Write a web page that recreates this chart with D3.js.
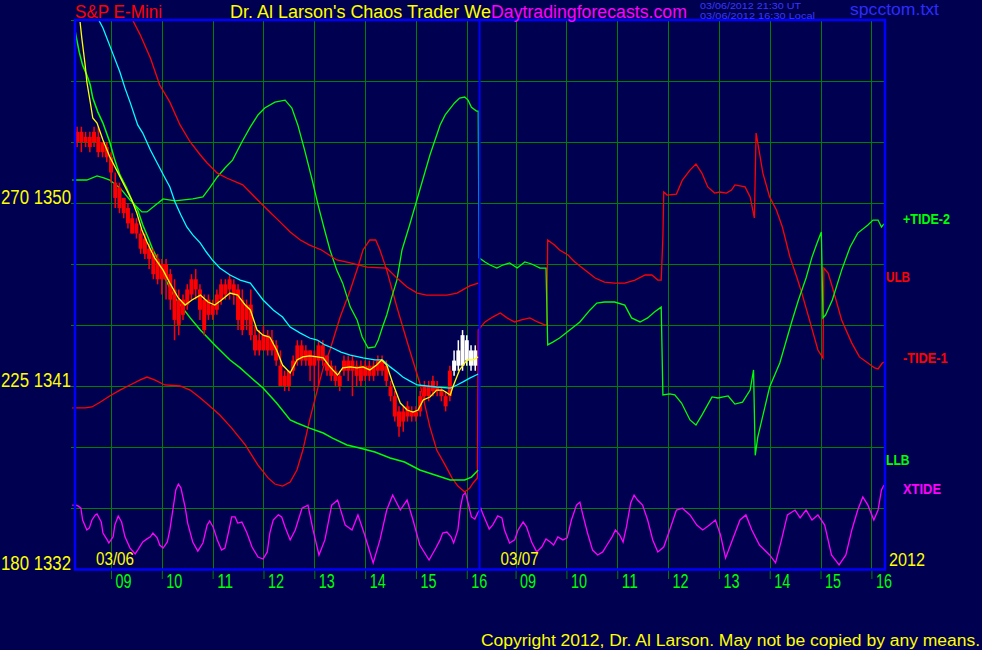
<!DOCTYPE html>
<html><head><meta charset="utf-8">
<script src="https://cdn.jsdelivr.net/npm/d3@7"></script>
<style>html,body{margin:0;padding:0;background:#000050;}svg{display:block}</style>
</head><body>
<svg id="c" width="982" height="650"></svg>
<script>
// ---------- DATA ----------
const days = ["03/06", "03/07"];
const hourLabels = ["09","10","11","12","13","14","15","16"];
const priceLabels = [1332, 1341, 1350];
const gridPrices = [1335, 1338, 1341, 1344, 1347, 1350, 1353, 1356];
const sessionOpen = 497.5;   // minutes after midnight (08:17:30)
const sessionLen = 477.6;    // minutes per plotted session
const barStart = 2.5, barStep = 5; // 5-minute bars, minutes from first session open
const liveFrom = 89;         // bars from this index are drawn white

const barHigh = [1353.75,1353.75,1353.5,1353.5,1353.75,1353.75,1353,1353,1352.5,1351.5,
1351,1350.25,1350,1349.5,1349.25,1348.75,1348.5,1348,1347.75,1347.5,
1347.25,1347.25,1346.75,1346.25,1345.75,1345.5,1346,1346.5,1346.75,1346,
1345.5,1345.5,1345.25,1345.75,1346.25,1346.25,1346.5,1346.25,1346,1345.75,
1345.25,1345.75,1344,1343.75,1344,1343.75,1343.75,1343.25,1342.75,1341.75,
1341.75,1342.5,1343.25,1343.25,1343,1342.75,1342.75,1343.25,1343.25,1342.5,
1342.25,1342,1341.75,1342.5,1342.5,1342.5,1342.25,1342.25,1342.25,1342.25,
1342.25,1342.5,1342.5,1342.25,1341.25,1340.75,1340,1340,1340.25,1340,
1340,1340.75,1341.25,1341.25,1341.5,1341.25,1341,1340.75,1342,1342.75,
1343.25,1343.75,1343.5,1343,1343];
const barLow = [1352.75,1352.5,1352.75,1352.5,1352.75,1352.25,1352.25,1352,1351,1349.75,
1349.5,1349.25,1348.75,1348.5,1348.25,1347.5,1347.25,1346.75,1346.25,1346,
1345.5,1345.25,1344.75,1343.25,1343.5,1344.25,1344.75,1345.25,1345.25,1344.25,
1343.5,1344.25,1344.25,1344.5,1345,1345.25,1345.25,1345,1343.75,1343.5,
1343.75,1343.25,1342.5,1342.5,1342.75,1342.5,1342.5,1342,1341,1340.75,
1340.75,1341.5,1342,1342,1342,1341.25,1340.75,1341,1342,1341.5,
1341.25,1341,1340.75,1341.5,1341.25,1340.5,1341,1341,1341.25,1341.25,
1341.25,1341.5,1341.5,1341,1340.25,1339.25,1338.5,1338.75,1339.25,1339.25,
1339.25,1339.5,1340.25,1340.25,1340.5,1340.5,1340.25,1339.75,1340.25,1341.5,
1341.75,1341.75,1342,1341.75,1341.75];
const barOpen = [1353.5,1353,1353.25,1353.25,1353,1353.25,1353,1352.75,1352.25,1351,
1350.75,1350.25,1349.75,1349.25,1349,1348.5,1348.25,1347.75,1347.5,1347.25,
1347,1346.25,1346.5,1345.75,1345.25,1344.5,1345,1345.5,1346.25,1345.75,
1345.25,1344.5,1345,1344.75,1345.25,1345.5,1345.75,1346,1345.75,1345.25,
1344.25,1345,1343.5,1343.25,1342.75,1343.5,1343.25,1343,1342,1341.5,
1341,1341.75,1342.25,1343,1342.25,1342.75,1342.5,1342.25,1343,1342.5,
1342,1341.75,1341.5,1341.75,1341.75,1342.25,1342,1342,1341.5,1342,
1341.5,1341.75,1341.75,1342,1341,1340.5,1339.75,1339.25,1340,1339.5,
1339.75,1339.75,1340.5,1340.5,1340.75,1341,1340.75,1340.5,1340.5,1341.75,
1342,1342,1343.25,1342.75,1342];
const barClose = [1353,1353.5,1353,1352.75,1353.5,1352.5,1352.5,1352.25,1351.5,1350.25,
1349.75,1349.5,1349,1348.5,1348.5,1347.75,1347.5,1347.25,1346.5,1346.25,
1346.25,1347,1345.25,1344.25,1344,1345.25,1345.75,1346.25,1345.75,1344.75,
1343.75,1345.25,1344.5,1345.5,1346,1346,1346.25,1345.5,1344.25,1343.75,
1345,1343.5,1342.75,1342.75,1343.5,1342.75,1342.75,1342.25,1341,1341,
1341.75,1342.25,1343,1342.25,1342.75,1342,1342,1343,1342.25,1341.75,
1341.5,1341.25,1341,1342.25,1342.25,1341.75,1341.5,1341.25,1342,1341.5,
1342,1342.25,1342.25,1341.25,1340.5,1339.5,1339,1339.75,1339.5,1339.75,
1339.5,1340.5,1341,1341,1341.25,1340.75,1340.5,1340,1341.75,1342.25,
1342.75,1343.5,1342.25,1342,1342.75];

// [minutes from first session open, price]
const yellowMA = [[6,1358.9],[8,1358.12],[12,1356.78],[14,1355.95],[18,1354.96],[21,1354.18],[26,1353.93],[33,1353.1],[41,1352.27],[51,1351.47],[61,1350.64],[67,1350.15],[73,1349.51],[79,1348.67],[85,1348.08],[94,1347.3],[104,1346.7],[112,1346.06],[122,1345.33],[130,1344.98],[138,1345.23],[148,1345.47],[157,1345.13],[165,1344.98],[173,1345.23],[183,1345.57],[192,1345.47],[201,1344.98],[207,1344.74],[215,1343.75],[222,1343.5],[230,1343.4],[238,1342.77],[245,1342.03],[254,1341.64],[262,1342.28],[269,1342.43],[277,1342.48],[286,1342.43],[293,1342.38],[301,1341.94],[310,1341.54],[316,1341.89],[325,1341.94],[333,1341.89],[340,1341.94],[348,1341.79],[356,1342.03],[362,1342.28],[368,1342.03],[375,1341.15],[384,1340.16],[392,1339.82],[399,1339.72],[405,1339.82],[411,1340.31],[419,1340.46],[427,1340.8],[434,1340.8],[443,1340.56],[446,1340.95],[454,1341.79],[463,1342.28],[470,1342.28],[476,1342.43]];
const cyanMA = [[28,1359],[33,1358.61],[44,1357.42],[53,1356.44],[59,1355.65],[65,1354.96],[74,1353.84],[80,1353.44],[89,1352.61],[97,1351.97],[105,1351.33],[112,1350.79],[118,1350.05],[125,1349.41],[132,1348.82],[139,1348.43],[148,1348.03],[155,1347.59],[162,1347.2],[171,1346.8],[183,1346.46],[195,1346.21],[207,1346.06],[215,1345.62],[222,1345.23],[234,1344.74],[245,1344.39],[254,1343.9],[266,1343.6],[277,1343.36],[286,1343.26],[295,1343.02],[304,1342.87],[314,1342.67],[325,1342.52],[340,1342.38],[354,1342.28],[363,1342.28],[372,1341.94],[380,1341.69],[387,1341.44],[395,1341.25],[404,1341.05],[415,1341],[427,1340.95],[443,1340.9],[451,1341.05],[458,1341.2],[466,1341.39],[476,1341.59]];
const llb = [[0,1358.51],[1,1358.27],[5,1357.42],[9,1356.78],[14,1356.29],[18,1355.8],[21,1355.16],[27,1354.47],[33,1353.93],[41,1353],[47,1352.11],[53,1351.38],[61,1350.74],[68,1350.05],[74,1349.66],[80,1348.92],[86,1348.33],[92,1347.69],[97,1347.3],[106,1346.31],[118,1345.33],[136,1344.35],[148,1343.75],[165,1343.02],[183,1342.28],[195,1341.89],[207,1341.44],[222,1340.9],[238,1340.16],[254,1339.33],[262,1339.18],[277,1338.93],[293,1338.69],[304,1338.44],[321,1338.1],[336,1337.95],[354,1337.75],[372,1337.46],[389,1337.26],[407,1336.87],[425,1336.62],[443,1336.38],[460,1336.38],[468,1336.52],[476,1336.87]];
const ulb = [[68,1359],[77,1358.27],[89,1357.13],[100,1355.8],[112,1354.96],[124,1353.84],[136,1353],[148,1352.36],[156,1351.97],[168,1351.47],[179,1351.23],[198,1350.89],[218,1350.05],[230,1349.56],[242,1349.07],[254,1348.57],[266,1348.18],[277,1347.93],[291,1347.69],[309,1347.2],[325,1347.05],[345,1346.85],[368,1346.8],[380,1346.31],[392,1345.87],[404,1345.57],[415,1345.47],[439,1345.47],[451,1345.57],[466,1345.92],[476,1346.06]];
const tide2 = [[0,1351.13],[14,1351.13],[26,1351.33],[34,1351.23],[41,1351.13],[53,1350.74],[65,1350.15],[73,1349.81],[79,1349.56],[85,1349.56],[94,1349.86],[104,1350.2],[118,1350.1],[139,1350.2],[151,1350.3],[159,1350.74],[168,1351.28],[177,1351.72],[186,1352.11],[197,1353],[207,1353.74],[216,1354.33],[224,1354.67],[236,1354.96],[248,1355.06],[256,1354.67],[263,1353.84],[271,1352.61],[280,1351.13],[287,1349.9],[294,1348.77],[301,1347.69],[309,1346.7],[316,1346.06],[325,1344.88],[333,1344.25],[339,1343.41],[346,1342.87],[354,1342.92],[358,1343.26],[363,1343.9],[368,1344.49],[374,1345.38],[380,1346.21],[386,1347.69],[395,1348.92],[407,1350.64],[419,1352.36],[431,1353.84],[437,1354.33],[448,1354.92],[454,1355.16],[460,1355.21],[464,1355.06],[468,1354.71],[474,1354.52],[476,1354.52],[477,1347.3],[484,1347.1],[490,1346.95],[498,1346.8],[505,1346.95],[513,1347.05],[522,1346.8],[531,1347.1],[539,1347],[549,1346.8],[556,1346.8],[558,1343.02],[564,1343.16],[572,1343.36],[584,1343.75],[596,1344.15],[608,1344.74],[616,1345.08],[625,1345.13],[637,1345.13],[649,1344.98],[657,1344.35],[667,1344.15],[676,1344.35],[684,1344.64],[692,1344.88],[694,1340.56],[702,1340.61],[708,1340.56],[716,1340.16],[726,1339.33],[733,1339.08],[740,1339.57],[752,1340.46],[759,1340.41],[771,1340.51],[779,1340.11],[788,1340.21],[797,1340.8],[801,1341.79],[803,1337.59],[806,1338.49],[820,1340.95],[832,1342.13],[846,1344.15],[854,1345.23],[863,1346.31],[870,1347.34],[876,1348.03],[881,1348.57],[883,1344.35],[886,1344.49],[894,1345.23],[905,1346.7],[915,1347.84],[924,1348.52],[936,1348.92],[942,1349.16],[948,1349.16],[952,1348.82],[955,1348.97]];
const tide1 = [[0,1339.92],[12,1339.92],[20,1339.97],[30,1340.21],[41,1340.51],[53,1340.8],[65,1341.05],[77,1341.3],[85,1341.44],[94,1341.3],[106,1341.05],[124,1341],[136,1340.8],[148,1340.41],[159,1340.02],[171,1339.57],[185,1338.93],[201,1338.1],[216,1337.11],[228,1336.48],[236,1336.18],[245,1336.08],[254,1336.28],[262,1336.87],[269,1337.85],[277,1339.33],[286,1340.8],[293,1341.89],[301,1342.77],[313,1344.39],[325,1345.72],[334,1346.85],[340,1347.69],[348,1348.18],[355,1348.18],[360,1347.69],[368,1346.7],[380,1344.88],[395,1342.77],[407,1341.15],[419,1338.98],[427,1337.85],[437,1337.11],[445,1336.48],[452,1336.08],[460,1335.79],[466,1335.98],[470,1336.23],[475,1336.48],[476,1343.75],[484,1344.15],[493,1344.39],[502,1344.59],[510,1344.35],[519,1344.15],[527,1344.25],[537,1344.35],[546,1344.15],[555,1344],[557,1344],[558,1348.18],[566,1347.93],[572,1347.69],[582,1347.44],[590,1347.1],[602,1346.7],[614,1346.31],[625,1346.11],[637,1346.06],[649,1346.06],[661,1346.21],[673,1346.46],[681,1346.46],[688,1346.21],[692,1346.21],[694,1348.33],[695,1350.54],[699,1350.39],[710,1350.44],[717,1351.13],[726,1351.62],[733,1351.92],[740,1351.47],[747,1350.79],[755,1350.49],[761,1350.54],[769,1350.49],[775,1350.64],[779,1350.89],[791,1350.79],[797,1350.3],[802,1349.26],[804,1353.44],[808,1352.46],[812,1351.47],[820,1350.3],[828,1349.66],[835,1348.82],[844,1347.34],[852,1346.36],[858,1345.57],[867,1344.25],[877,1342.77],[883,1342.38],[884,1346.8],[889,1346.55],[894,1345.87],[905,1344.25],[917,1343.11],[926,1342.43],[936,1342.13],[944,1341.89],[948,1341.84],[953,1342.13],[955,1342.18]];
const xtide = [[1,1335.14],[4,1335.09],[7,1334.99],[9,1334.41],[14,1333.92],[17,1334.02],[20,1334.41],[24,1334.66],[26,1334.71],[31,1334.31],[33,1333.77],[38,1333.43],[40,1333.28],[45,1333.58],[47,1334.16],[51,1334.61],[55,1334.31],[59,1333.58],[65,1333.03],[71,1332.74],[74,1332.93],[80,1333.33],[85,1333.48],[89,1333.58],[92,1333.77],[97,1333.53],[100,1333.18],[104,1333.03],[109,1333.33],[112,1333.92],[116,1335.04],[119,1335.89],[122,1336.18],[125,1335.99],[130,1335.04],[133,1334.26],[139,1333.33],[145,1332.88],[151,1333.28],[156,1334.16],[159,1334.36],[163,1334.07],[168,1333.43],[173,1332.93],[177,1333.03],[181,1333.77],[185,1334.56],[189,1334.56],[192,1334.26],[197,1334.31],[203,1333.77],[209,1333.08],[216,1332.59],[222,1332.49],[227,1332.84],[230,1333.77],[234,1334.41],[240,1334.66],[244,1334.56],[248,1334.07],[254,1333.43],[260,1333.92],[268,1334.99],[275,1335.14],[281,1333.92],[288,1332.69],[295,1333.43],[303,1335.14],[310,1335.39],[319,1334.16],[327,1333.92],[334,1334.66],[342,1333.67],[352,1332.3],[360,1333.43],[368,1334.9],[375,1335.64],[384,1334.9],[392,1335.39],[399,1334.41],[407,1333.18],[418,1332.44],[426,1333.03],[431,1333.43],[434,1333.77],[439,1333.82],[444,1333.58],[447,1333.28],[452,1333.92],[455,1335.04],[458,1335.64],[461,1335.74],[464,1335.25],[468,1334.56],[472,1334.46],[476,1334.8],[479,1334.99],[481,1334.75],[486,1334.26],[489,1333.97],[493,1334.16],[499,1334.61],[504,1334.51],[507,1333.92],[513,1333.28],[519,1333.43],[523,1333.92],[529,1334.31],[533,1334.07],[539,1333.33],[545,1332.84],[551,1333.08],[556,1333.48],[561,1333.33],[565,1333.18],[570,1333.58],[576,1333.43],[581,1333.53],[586,1334.41],[592,1335.14],[596,1335.29],[599,1334.75],[605,1333.77],[611,1332.93],[617,1332.69],[623,1332.84],[628,1333.18],[634,1333.58],[638,1333.92],[643,1333.67],[647,1333.33],[651,1334.07],[656,1335.25],[660,1335.64],[664,1335.39],[670,1335.14],[676,1334.41],[682,1333.43],[688,1332.84],[695,1333.08],[702,1333.92],[710,1334.9],[717,1334.99],[726,1334.66],[734,1334.16],[741,1333.92],[749,1334.16],[756,1334.41],[762,1333.67],[768,1332.54],[776,1333.43],[785,1334.41],[792,1334.66],[799,1333.92],[808,1333.18],[820,1332.69],[827,1332.3],[834,1333.43],[841,1334.66],[850,1334.9],[856,1334.51],[863,1334.9],[870,1334.41],[877,1334.66],[885,1334.16],[893,1332.69],[902,1332.2],[910,1332.69],[917,1333.92],[924,1334.9],[930,1335.54],[936,1335.14],[943,1334.41],[948,1334.9],[952,1335.89],[955,1336.13]];

// ---------- DRAW ----------
const FONT = "'Liberation Sans Narrow','Arial Narrow','Liberation Sans',Arial,sans-serif";
const svg = d3.select("#c");
const x = d3.scaleLinear().domain([0, 955]).range([75, 884]);
const y = d3.scaleLinear().domain([1332, 1359]).range([569, 20]);
const yIdx = d3.scaleLinear().domain([1332, 1350]).range([180, 270]);

svg.append("rect").attr("width", 982).attr("height", 650).attr("fill", "#000050");

function txt(s, px, py, fill, size, len, opt = {}) {
  const t = svg.append("text").attr("x", px).attr("y", py).text(s)
    .attr("fill", fill).attr("font-size", size).attr("font-family", FONT)
    .attr("font-weight", opt.bold ? "bold" : "normal");
  if (len) t.attr("textLength", len).attr("lengthAdjust", "spacingAndGlyphs");
  if (opt.anchor) t.attr("text-anchor", opt.anchor);
  return t;
}

// hour positions
const hourTicks = [];
days.forEach((d, di) => hourLabels.forEach(h => hourTicks.push(di * sessionLen + (+h * 60 - sessionOpen))));

// grid
const grid = svg.append("g").attr("stroke", "#008000").attr("stroke-width", 1);
grid.selectAll(".h").data(gridPrices).join("line")
  .attr("x1", 75).attr("x2", 884)
  .attr("y1", d => Math.round(y(d)) + 0.5).attr("y2", d => Math.round(y(d)) + 0.5);
grid.selectAll(".v").data(hourTicks).join("line")
  .attr("x1", d => Math.round(x(d)) + 0.5).attr("x2", d => Math.round(x(d)) + 0.5)
  .attr("y1", 20).attr("y2", 569);

// bottom axis
const gx = svg.append("g").attr("transform", "translate(0,569)")
  .call(d3.axisBottom(x).tickValues(hourTicks).tickFormat((d, i) => hourLabels[i % 8]).tickSize(10).tickSizeOuter(0));
gx.select(".domain").remove();
gx.selectAll(".tick line").attr("stroke", "#008000");
gx.selectAll(".tick text").attr("fill", "#00ff00").attr("text-anchor", "start")
  .attr("x", 4).attr("y", 18.5).attr("dy", 0).attr("font-size", 20).attr("font-family", FONT)
  .attr("textLength", 16).attr("lengthAdjust", "spacingAndGlyphs");

// left axis ticks and labels
const gyt = svg.append("g").attr("transform", "translate(75,0)")
  .call(d3.axisLeft(y).tickValues(gridPrices.concat([1359])).tickSize(4).tickFormat(""));
gyt.select(".domain").remove();
gyt.selectAll(".tick line").attr("stroke", "#008000");
const gyl = svg.append("g").attr("transform", "translate(71,0)")
  .call(d3.axisLeft(y).tickValues(priceLabels).tickSize(0).tickFormat(d => Math.round(yIdx(d)) + " " + d));
gyl.select(".domain").remove();
gyl.selectAll(".tick text").attr("fill", "#ffff00").attr("x", 0).attr("dy", 0).attr("y", 0.5)
  .attr("font-size", 19.5).attr("font-family", FONT)
  .attr("textLength", 70).attr("lengthAdjust", "spacingAndGlyphs");

// clip
svg.append("clipPath").attr("id", "plot").append("rect").attr("x", 75).attr("y", 20).attr("width", 810).attr("height", 549);
const plot = svg.append("g").attr("clip-path", "url(#plot)");
const line = d3.line().x(d => x(d[0])).y(d => y(d[1]));
function drawLine(data, color, w) {
  plot.append("path").datum(data).attr("d", line).attr("fill", "none")
    .attr("stroke", color).attr("stroke-width", w).attr("stroke-linejoin", "miter");
}
drawLine(xtide, "#ff00ff", 1.3);
drawLine(tide1, "#ff0000", 1.3);
drawLine(tide2, "#00ff00", 1.3);
drawLine(ulb, "#ff0000", 1.3);
drawLine(llb, "#00ff00", 1.5);

// bars
const bars = barHigh.map((h, i) => ({ t: barStart + i * barStep, h, l: barLow[i], o: barOpen[i], c: barClose[i], live: i >= liveFrom }));
const bg = plot.append("g");
bg.selectAll("line").data(bars).join("line")
  .attr("x1", d => x(d.t)).attr("x2", d => x(d.t))
  .attr("y1", d => y(d.h)).attr("y2", d => y(d.l))
  .attr("stroke", d => d.live ? "#ffffff" : "#ff0000").attr("stroke-width", 1.5);
bg.selectAll("rect").data(bars).join("rect")
  .attr("x", d => x(d.t) - 2).attr("width", 4)
  .attr("y", d => y(Math.max(d.o, d.c)))
  .attr("height", d => Math.max(1, y(Math.min(d.o, d.c)) - y(Math.max(d.o, d.c))))
  .attr("fill", d => d.live ? "#ffffff" : "#ff0000");

drawLine(cyanMA, "#00ffff", 1.3);
drawLine(yellowMA, "#ffff00", 1.3);

// left edge markers of oscillators
[[tide2, "#00ff00"], [tide1, "#ff0000"], [xtide, "#ff00ff"]].forEach(([s, c]) => {
  svg.append("line").attr("x1", 72).attr("x2", 75).attr("y1", y(s[0][1])).attr("y2", y(s[0][1]))
    .attr("stroke", c).attr("stroke-width", 1);
});

// day separator and border
svg.append("line").attr("x1", x(sessionLen)).attr("x2", x(sessionLen)).attr("y1", 20).attr("y2", 569)
  .attr("stroke", "#0000ff").attr("stroke-width", 2);
svg.append("rect").attr("x", 75).attr("y", 20).attr("width", 810).attr("height", 549.5)
  .attr("fill", "none").attr("stroke", "#0000ff").attr("stroke-width", 2.5);

// day labels
days.forEach((d, i) => txt(d, x(i * sessionLen) + 21, 565, "#ffff00", 18.5, 38));
txt("2012", 889, 566, "#ffff00", 18.5, 36);

// right labels
const last = s => s[s.length - 1][1];
txt("+TIDE-2", 903, y(last(tide2)) + 0.5, "#00ff00", 15, 47, { bold: true });
txt("ULB", 886, y(last(ulb)) - 1, "#ff0000", 15, 24, { bold: true });
txt("-TIDE-1", 903, y(last(tide1)) + 1, "#ff0000", 15, 44.5, { bold: true });
txt("LLB", 886, y(last(llb)) - 5, "#00ff00", 15, 23.5, { bold: true });
txt("XTIDE", 903, y(last(xtide)) + 9, "#ff00ff", 15, 38, { bold: true });

// header
txt("S&P E-Mini", 75, 18, "#ff0000", 18, 87);
txt("Dr. Al Larson's Chaos Trader We", 230, 18, "#ffff00", 18, 261);
txt("Daytradingforecasts.com", 491, 18, "#ff00ff", 18, 196);
txt("03/06/2012 21:30 UT", 700, 8.5, "#3838ff", 9, 101);
txt("03/06/2012 16:30 Local", 700, 18.5, "#3838ff", 9, 115);
txt("spcctom.txt", 850, 15, "#2c2cff", 17, 89);

// footer
txt("Copyright 2012, Dr. Al Larson. May not be copied by any means.", 481, 646, "#ffff00", 16, 499);
</script>
</body></html>
